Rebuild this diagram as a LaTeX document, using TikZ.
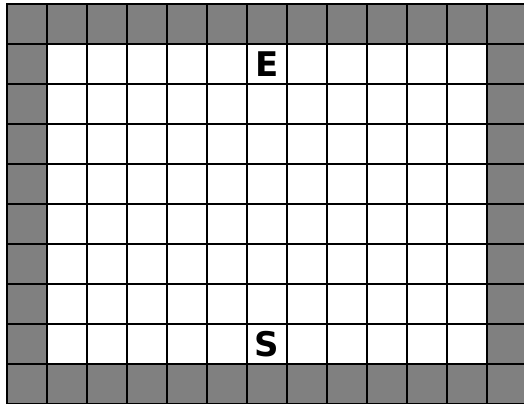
\documentclass[tikz,border=0pt]{standalone}
\usepackage{fontspec}
\newfontfamily\gridfont{DejaVu Sans}
\usepackage{tikz}
\usetikzlibrary{positioning}

\begin{document}
\begin{tikzpicture}[x=1.2cm, y=1.2cm,
    wall/.style={fill=gray, draw=black, line width=1.2pt},
    cellbox/.style={fill=white, draw=black, line width=1.2pt},
    marker/.style={font=\gridfont\bfseries\fontsize{29}{29}\selectfont, inner sep=0pt}]
  % picture size and clipping (the grid runs past the right edge)
  \useasboundingbox (-0.175,0) rectangle (12.925,10.1);
  \clip (-0.175,0) rectangle (12.925,10.1);
  \fill[white] (-0.175,0) rectangle (12.925,10.1);

  % cells: outer ring is wall, the rest is free
  \foreach \x in {0,...,12} {
    \foreach \y in {0,...,9} {
      \pgfmathsetmacro{\iswall}{(\x==0 || \x==12 || \y==0 || \y==9) ? 1 : 0}
      \ifdim\iswall pt>0.5pt
        \draw[wall] (\x,\y) rectangle ++(1,1);
      \else
        \draw[cellbox] (\x,\y) rectangle ++(1,1);
      \fi
    }
  }

  % start and end
  \node[marker] (end) at (6.5,8.5) {E};
  \node[marker] (start) at (6.5,1.5) {S};
\end{tikzpicture}
\end{document}
